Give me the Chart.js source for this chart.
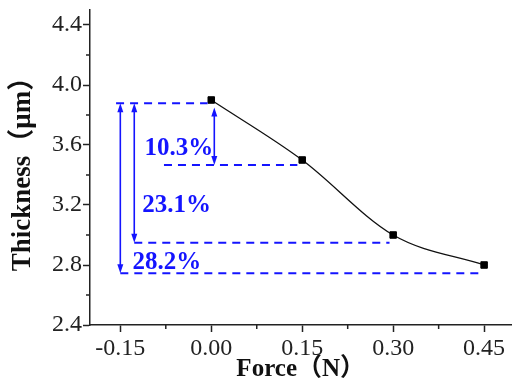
<!DOCTYPE html>
<html><head><meta charset="utf-8">
<script src="https://cdn.jsdelivr.net/npm/chart.js@4"></script>
<style>html,body{margin:0;padding:0;background:#fff;} canvas{display:block}</style>
</head><body>
<canvas id="c" width="517" height="385"></canvas>
<script>
const forceN = [0.00, 0.15, 0.30, 0.45];
const thicknessUm = [3.90, 3.50, 3.00, 2.80];
const xTickValues = [-0.15, 0.00, 0.15, 0.30, 0.45];
const xTickLabels = ['-0.15', '0.00', '0.15', '0.30', '0.45'];
const xMinorTicks = [-0.075, 0.075, 0.225, 0.375];
const yTickValues = [2.4, 2.8, 3.2, 3.6, 4.0, 4.4];
const yTickLabels = ['2.4', '2.8', '3.2', '3.6', '4.0', '4.4'];
const yMinorTicks = [2.6, 3.0, 3.4, 3.8, 4.2];
const refLevels = [3.878, 3.467, 2.949, 2.745];
const refStarts = [-0.157, -0.078, -0.127, -0.15];
const refEnds = [-0.006, 0.142, 0.294, 0.444];
const arrowX = [-0.15, -0.127, 0.005];
const arrowTop = [3.878, 3.878, 3.85];
const arrowBottom = [2.745, 2.949, 3.467];
const pctLabels = ['10.3%', '23.1%', '28.2%'];
const pctX = [-0.110, -0.114, -0.130];
const pctY = [3.577, 3.197, 2.817];

const SERIF = '"Liberation Serif", "Noto Sans CJK SC", serif';
const AXIS = '#222';
const BLUE = '#1414ff';

const annot = {
  id: 'annot',
  afterDraw(chart) {
    const {ctx, scales: {x, y}} = chart;
    ctx.save();
    // minor ticks
    ctx.strokeStyle = AXIS; ctx.lineWidth = 1.5;
    const ax = x.getPixelForValue(x.min), ay = y.getPixelForValue(y.min);
    yMinorTicks.forEach(v => {
      const p = y.getPixelForValue(v);
      ctx.beginPath(); ctx.moveTo(ax - 4, p); ctx.lineTo(ax, p); ctx.stroke();
    });
    xMinorTicks.forEach(v => {
      const p = x.getPixelForValue(v);
      ctx.beginPath(); ctx.moveTo(p, ay); ctx.lineTo(p, ay + 4); ctx.stroke();
    });
    // dashed reference lines
    ctx.strokeStyle = BLUE; ctx.lineWidth = 2; ctx.setLineDash([8, 6]);
    refLevels.forEach((lv, i) => {
      const py = y.getPixelForValue(lv);
      ctx.beginPath();
      ctx.moveTo(x.getPixelForValue(refStarts[i]), py);
      ctx.lineTo(x.getPixelForValue(refEnds[i]), py);
      ctx.stroke();
    });
    ctx.setLineDash([]);
    // double-headed arrows
    ctx.lineWidth = 1.6; ctx.fillStyle = BLUE;
    arrowX.forEach((av, i) => {
      const px = x.getPixelForValue(av);
      const t = y.getPixelForValue(arrowTop[i]);
      const b = y.getPixelForValue(arrowBottom[i]);
      ctx.beginPath(); ctx.moveTo(px, t + 6); ctx.lineTo(px, b - 6); ctx.stroke();
      ctx.beginPath(); ctx.moveTo(px, t); ctx.lineTo(px - 3, t + 9); ctx.lineTo(px + 3, t + 9); ctx.closePath(); ctx.fill();
      ctx.beginPath(); ctx.moveTo(px, b); ctx.lineTo(px - 3, b - 9); ctx.lineTo(px + 3, b - 9); ctx.closePath(); ctx.fill();
    });
    // percentage labels
    ctx.font = 'bold 25px ' + SERIF;
    ctx.textAlign = 'left'; ctx.textBaseline = 'middle';
    pctLabels.forEach((t, i) => {
      ctx.fillText(t, x.getPixelForValue(pctX[i]), y.getPixelForValue(pctY[i]));
    });
    ctx.restore();
  }
};

new Chart(document.getElementById('c'), {
  type: 'line',
  data: {
    datasets: [{
      data: forceN.map((f, i) => ({x: f, y: thicknessUm[i]})),
      borderColor: '#111',
      borderWidth: 1.3,
      cubicInterpolationMode: 'monotone',
      pointStyle: 'rect',
      pointRadius: 4.6,
      pointBackgroundColor: '#000',
      pointBorderColor: '#000',
      pointBorderWidth: 1
    }]
  },
  options: {
    responsive: false,
    animation: false,
    devicePixelRatio: 1,
    layout: {padding: {top: 10, right: 0, bottom: 0, left: 0}},
    plugins: {legend: {display: false}, tooltip: {enabled: false}},
    scales: {
      x: {
        type: 'linear', min: -0.2, max: 0.495,
        afterBuildTicks: s => { s.ticks = xTickValues.map(v => ({value: v})); },
        afterFit: s => { s.height = 60; s.paddingLeft = 0; s.paddingRight = 0; },
        ticks: {callback: (v, i) => xTickLabels[i], font: {family: SERIF, size: 24}, color: AXIS, padding: 2, maxRotation: 0, autoSkip: false},
        grid: {drawOnChartArea: false, tickLength: 7, tickColor: AXIS, tickWidth: 1.5},
        border: {color: AXIS, width: 1.5},
        title: {display: true, text: 'Force（N）', font: {family: SERIF, size: 25, weight: 'bold'}, color: '#111', padding: {top: 0, bottom: 0}}
      },
      y: {
        type: 'linear', min: 2.4, max: 4.5,
        afterBuildTicks: s => { s.ticks = yTickValues.map(v => ({value: v})); },
        afterFit: s => { s.width = 90; s.paddingTop = 0; s.paddingBottom = 0; },
        ticks: {callback: (v, i) => yTickLabels[i], font: {family: SERIF, size: 24}, color: AXIS, padding: 1, autoSkip: false},
        grid: {drawOnChartArea: false, tickLength: 7, tickColor: AXIS, tickWidth: 1.5},
        border: {color: AXIS, width: 1.5},
        title: {display: true, text: 'Thickness（μm）', font: {family: SERIF, size: 27, weight: 'bold'}, color: '#111', padding: {top: 7, bottom: 0}}
      }
    }
  },
  plugins: [annot]
});
</script>
</body></html>
